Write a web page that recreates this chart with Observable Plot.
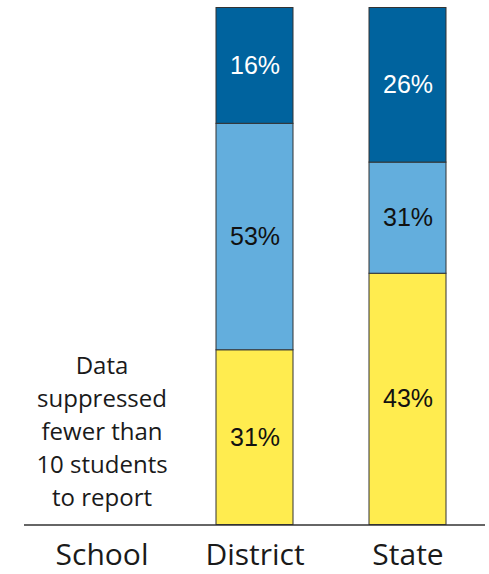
<!DOCTYPE html>
<html>
<head>
<meta charset="utf-8">
<script src="https://cdn.jsdelivr.net/npm/d3@7"></script>
<script src="https://cdn.jsdelivr.net/npm/@observablehq/plot@0.6"></script>
<style>
  html, body { margin: 0; padding: 0; background: #fff; }
  #chart { width: 489px; height: 574px; }
</style>
</head>
<body>
<div id="chart"></div>
<script>
const categories = ["School", "District", "State"];
const levels = ["Band 1", "Band 2", "Band 3"];
const levelColors = ["#ffec4f", "#63aedd", "#00639e"];
const labelColors = ["#111111", "#111111", "#ffffff"];
// segment heights as drawn in the picture (share of the bar)
const districtShares = [33.8, 43.8, 22.4];
const stateShares = [48.6, 21.5, 29.9];
// printed percentage labels
const districtLabels = ["31%", "53%", "16%"];
const stateLabels = ["43%", "31%", "26%"];
const suppressedNote = "Data\nsuppressed\nfewer than\n10 students\nto report";

const rows = [];
levels.forEach((lv, i) => {
  rows.push({category: "District", level: lv, share: districtShares[i], label: districtLabels[i]});
  rows.push({category: "State", level: lv, share: stateShares[i], label: stateLabels[i]});
});

const chart = Plot.plot({
  width: 489,
  height: 574,
  marginTop: 7.5,
  marginBottom: 49.5,
  marginLeft: 24,
  marginRight: 4,
  style: {fontFamily: "'Open Sans', sans-serif", color: "#1a1a1a", background: "#fff"},
  x: {domain: categories, paddingInner: 0.5, paddingOuter: 0.247, label: null},
  y: {domain: [0, 100], axis: null},
  color: {domain: levels, range: levelColors},
  marks: [
    Plot.barY(rows, Plot.stackY({x: "category", y: "share", z: "level", fill: "level", stroke: "#333", strokeWidth: 1})),
    Plot.text(rows, Plot.stackY({
      x: "category", y: "share", z: "level", text: "label",
      fill: d => labelColors[levels.indexOf(d.level)],
      fontSize: 25, fontFamily: "'Liberation Sans', Arial, sans-serif"
    })),
    Plot.text([suppressedNote], {
      x: () => "School", y: () => 0, text: d => d,
      lineAnchor: "bottom", lineHeight: 1.375, dy: -19,
      fontSize: 24, fill: "#1a1a1a"
    }),
    Plot.ruleY([0], {stroke: "#333", strokeWidth: 1.5}),
    Plot.axisX({tickSize: 0, tickPadding: 19, fontSize: 30, label: null})
  ]
});
document.getElementById("chart").append(chart);
</script>
</body>
</html>
